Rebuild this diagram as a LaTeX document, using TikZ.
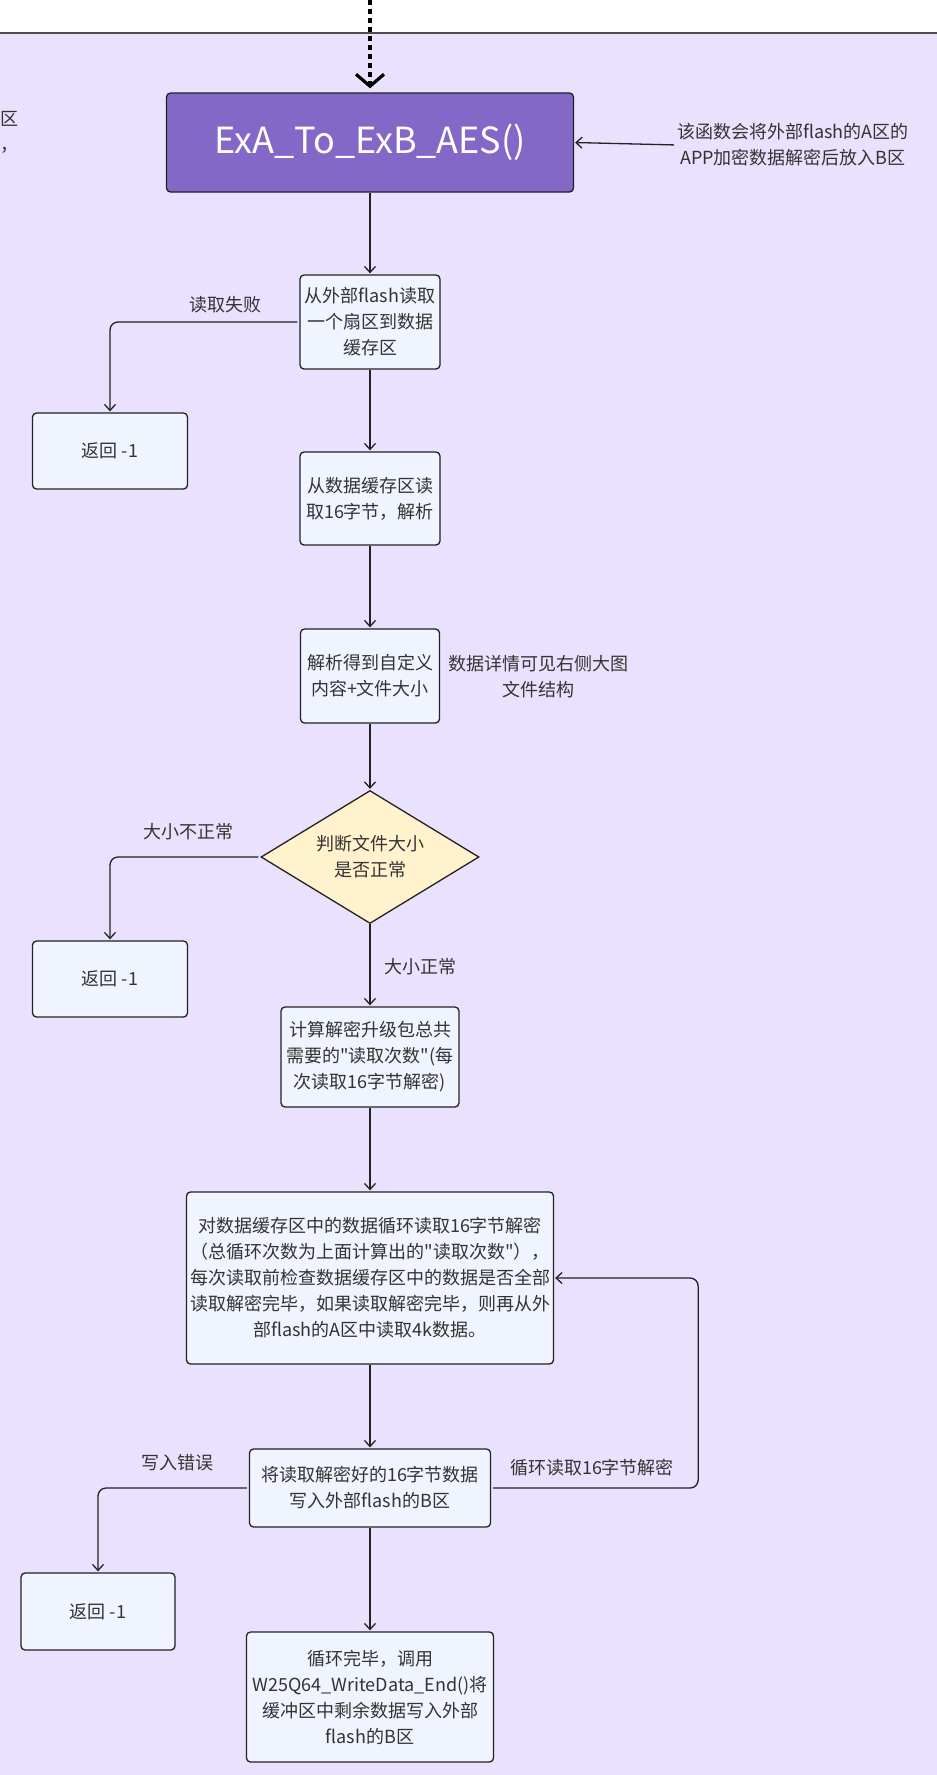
\documentclass[tikz,border=0pt]{standalone}
\usepackage{fontspec}
\setmainfont{Noto Sans CJK SC}[Ligatures=TeXOff]
\usetikzlibrary{shapes.geometric,arrows.meta}
\definecolor{bgl}{HTML}{E9E1FD}
\definecolor{boxf}{HTML}{F0F4FE}
\definecolor{mainf}{HTML}{8468C8}
\definecolor{decf}{HTML}{FFF2CC}
\definecolor{edgec}{HTML}{222222}
\definecolor{txt}{HTML}{333333}
\begin{document}
\begin{tikzpicture}[x=1pt,y=-1pt,
  stepbox/.style={draw=edgec, line width=1.3pt, fill=boxf, rounded corners=4pt,
    inner sep=0pt, align=center, text=txt, font=\fontsize{18}{26}\selectfont},
  decbox/.style={draw=edgec, line width=1.3pt, fill=decf, shape=diamond,
    inner sep=0pt},
  lbl/.style={inner sep=0pt, align=center, text=txt, font=\fontsize{18}{26}\selectfont},
  arr/.style={-{Straight Barb[length=6pt,width=11pt]}, line width=1.3pt, draw=edgec, shorten >=1pt},
  sidearr/.style={arr, rounded corners=8pt, shorten <=2pt}
]
\useasboundingbox (0,0) rectangle (937,1775);
\fill[bgl] (0,33) rectangle (937,1775);
\draw[line width=2pt, draw=edgec!80] (0,33) -- (937,33);

% cut-off text at left edge
\node[lbl, anchor=east, align=right] (cut) at (19,132) {区\\，};

% top entry
\coordinate (topin) at (370,0);
\node[draw=edgec, line width=1.3pt, fill=mainf, rounded corners=4pt, inner sep=0pt,
  minimum width=407pt, minimum height=99pt, text=white,
  font=\fontsize{36}{40}\selectfont] (main) at (370,142.5) {ExA\_To\_ExB\_AES()};
\draw[line width=3.2pt, draw=black, dash pattern=on 5pt off 4pt,
  -{Straight Barb[length=12pt,width=28pt,line width=3.2pt]}, shorten >=4pt] (topin) -- (main.north);

\node[lbl] (note1) at (793,145) {该函数会将外部flash的A区的\\APP加密数据解密后放入B区};
\draw[arr, shorten <=3pt] (note1.west) -- (main.east);

\node[stepbox, minimum width=140pt, minimum height=94pt] (b2) at (370,322)
  {从外部flash读取\\一个扇区到数据\\缓存区};
\node[stepbox, minimum width=140pt, minimum height=93pt] (b3) at (370,498.5)
  {从数据缓存区读\\取16字节，解析};
\node[stepbox, minimum width=139pt, minimum height=94pt] (b4) at (370,676)
  {解析得到自定义\\内容+文件大小};
\node[lbl] (note2) at (538,677) {数据详情可见右侧大图\\文件结构};
\node[decbox, minimum width=218pt, minimum height=133pt] (d1) at (370,857) {};
\node[lbl] (d1t) at (d1.center) {判断文件大小\\是否正常};
\node[stepbox, minimum width=178pt, minimum height=100pt] (b5) at (370,1057)
  {计算解密升级包总共\\需要的"读取次数"(每\\次读取16字节解密)};
\node[stepbox, minimum width=367pt, minimum height=172pt] (b6) at (370,1278)
  {对数据缓存区中的数据循环读取16字节解密\\（总循环次数为上面计算出的"读取次数"），\\每次读取前检查数据缓存区中的数据是否全部\\读取解密完毕，如果读取解密完毕，则再从外\\部flash的A区中读取4k数据。};
\node[stepbox, minimum width=241pt, minimum height=78pt] (b7) at (370,1488)
  {将读取解密好的16字节数据\\写入外部flash的B区};
\node[stepbox, minimum width=247pt, minimum height=130pt] (b8) at (370,1697)
  {循环完毕，调用\\W25Q64\_WriteData\_End()将\\缓冲区中剩余数据写入外部\\flash的B区};

\node[stepbox, minimum width=155pt, minimum height=76pt] (r1) at (110,451) {返回 -1};
\node[stepbox, minimum width=155pt, minimum height=76pt] (r2) at (110,979) {返回 -1};
\node[stepbox, minimum width=154pt, minimum height=77pt] (r3) at (98,1611.5) {返回 -1};

% main flow
\draw[arr] (main) -- (b2);
\draw[arr] (b2) -- (b3);
\draw[arr] (b3) -- (b4);
\draw[arr] (b4) -- (d1);
\draw[arr] (d1) -- (b5);
\draw[arr] (b5) -- (b6);
\draw[arr] (b6) -- (b7);
\draw[arr] (b7) -- (b8);

% branches
\draw[sidearr] (b2.west) -| (r1.north);
\node[lbl] (l1) at (225,305) {读取失败};
\draw[sidearr] (d1.west) -| (r2.north);
\node[lbl] (l2) at (188,832) {大小不正常};
\node[lbl] (l3) at (420,967) {大小正常};
\draw[sidearr] (b7.west) -| (r3.north);
\node[lbl] (l4) at (177,1463) {写入错误};
\draw[sidearr] (b7.east) -- ++(207,0) |- (b6.east);
\node[lbl] (l5) at (592,1468) {循环读取16字节解密};
\end{tikzpicture}
\end{document}
